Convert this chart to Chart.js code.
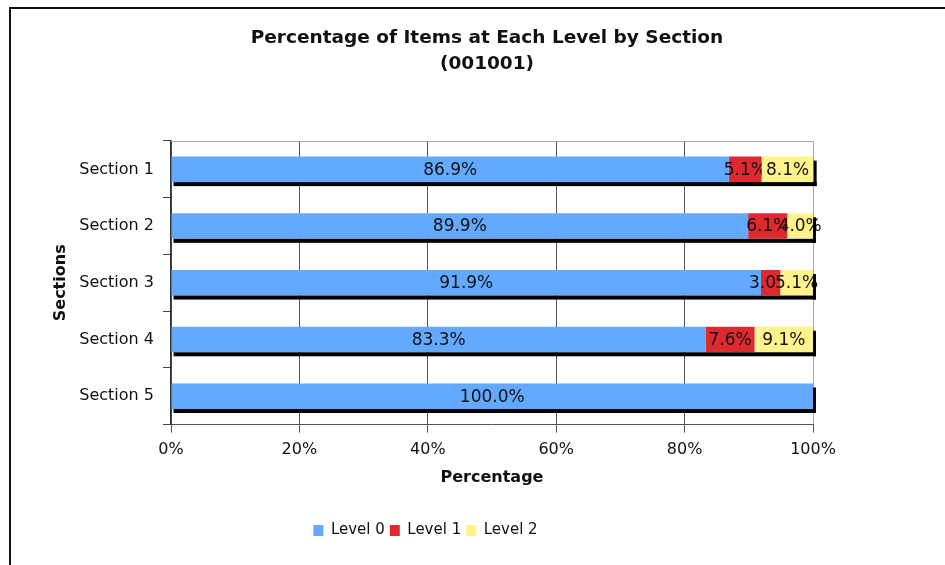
<!DOCTYPE html>
<html>
<head>
<meta charset="utf-8">
<script src="https://cdn.jsdelivr.net/npm/chart.js@4/dist/chart.umd.min.js"></script>
<style>
  html, body { margin: 0; padding: 0; background: #fff; }
  #wrap { width: 945px; height: 565px; }
</style>
</head>
<body>
<div id="wrap"><canvas id="levelChart" width="945" height="565"></canvas></div>
<script>
// sections and level shares (%)
const sections = ["Section 1", "Section 2", "Section 3", "Section 4", "Section 5"];
const level0 = [86.9, 89.9, 91.9, 83.3, 100.0];
const level1 = [5.1, 6.1, 3.0, 7.6, 0];
const level2 = [8.1, 4.0, 5.1, 9.1, 0];
const levelNames = ["Level 0", "Level 1", "Level 2"];
const levelColors = ["#63A9FF", "#DD2A31", "#FFF48C"];
const xTicks = [0, 20, 40, 60, 80, 100];

const FONT = "'DejaVu Sans', Verdana, sans-serif";

// outer frame (left and top edge only)
const framePlugin = {
  id: "frame",
  beforeDraw(chart) {
    const ctx = chart.ctx;
    ctx.save();
    ctx.strokeStyle = "#111";
    ctx.lineWidth = 2;
    ctx.beginPath();
    ctx.moveTo(10, chart.height + 5);
    ctx.lineTo(10, 8);
    ctx.lineTo(chart.width + 5, 8);
    ctx.stroke();
    ctx.restore();
  }
};

// the chart title sits centred on the page, not over the plot
const titleShift = {
  id: "titleShift",
  afterLayout(chart) {
    const tb = chart.titleBlock;
    if (!tb) return;
    const d = 487 - (tb.left + tb.right) / 2;
    tb.left += d;
    tb.right += d;
  }
};

// light border across the top of the plot area
const plotTopPlugin = {
  id: "plotTop",
  beforeDatasetsDraw(chart) {
    const { ctx, chartArea } = chart;
    ctx.save();
    ctx.strokeStyle = "#a8a8a8";
    ctx.lineWidth = 1;
    ctx.beginPath();
    ctx.moveTo(chartArea.left, Math.round(chartArea.top) + 0.5);
    ctx.lineTo(chartArea.right, Math.round(chartArea.top) + 0.5);
    ctx.stroke();
    ctx.restore();
  }
};

// value labels, each one hidden under the next segment, then the bar shadow
const labelPlugin = {
  id: "segLabels",
  afterDatasetsDraw(chart) {
    const ctx = chart.ctx;
    const metas = chart.data.datasets.map((ds, d) => chart.getDatasetMeta(d));
    ctx.save();
    ctx.font = "17px " + FONT;
    ctx.fillStyle = "#111";
    ctx.textAlign = "center";
    ctx.textBaseline = "middle";
    chart.data.datasets.forEach((ds, d) => {
      ds.data.forEach((v, i) => {
        if (!v) return;
        const bar = metas[d].data[i];
        const x0 = Math.min(bar.base, bar.x), x1 = Math.max(bar.base, bar.x);
        const hasNext = chart.data.datasets.some((o, k) => k > d && o.data[i] > 0);
        ctx.save();
        if (hasNext) {
          ctx.beginPath();
          ctx.rect(0, 0, x1, chart.height);
          ctx.clip();
        }
        ctx.fillText(v.toFixed(1) + "%", (x0 + x1) / 2, bar.y + 1);
        ctx.restore();
      });
    });

    // black drop shadow below and to the right of each stacked bar
    ctx.fillStyle = "#000";
    sections.forEach((s, i) => {
      let left = Infinity, right = -Infinity, top = 0, h = 0;
      metas.forEach((m, d) => {
        if (!chart.data.datasets[d].data[i]) return;
        const bar = m.data[i];
        left = Math.min(left, bar.base, bar.x);
        right = Math.max(right, bar.base, bar.x);
        top = bar.y - bar.height / 2;
        h = bar.height;
      });
      if (right < left) return;
      const dx = 3, dy = 4;
      ctx.fillRect(left + 2, top + h, right - left + dx - 2, dy);
      ctx.fillRect(right, top + dy, dx, h);
    });
    ctx.restore();
  }
};

const datasets = [level0, level1, level2].map((vals, d) => ({
  label: levelNames[d],
  data: vals,
  backgroundColor: levelColors[d],
  borderWidth: 0,
  barPercentage: 0.45,
  categoryPercentage: 1
}));

new Chart(document.getElementById("levelChart"), {
  type: "bar",
  data: { labels: sections, datasets },
  options: {
    indexAxis: "y",
    responsive: false,
    animation: false,
    layout: { padding: { top: 12, left: 38, right: 132, bottom: 17 } },
    scales: {
      x: {
        stacked: true,
        min: 0,
        max: 100,
        afterBuildTicks(scale) {
          scale.ticks = xTicks.map(v => ({ value: v }));
        },
        ticks: {
          color: "#111",
          padding: 8,
          font: { family: FONT, size: 16 },
          callback: v => v + "%"
        },
        grid: {
          color: ctx => (ctx.tick && ctx.tick.value === 100 ? "#a8a8a8" : "#555"),
          tickColor: "#555",
          tickLength: 8,
          lineWidth: 1
        },
        border: { color: "#555", width: 1 },
        title: {
          display: true,
          text: "Percentage",
          color: "#111",
          padding: { top: 0, bottom: 31 },
          font: { family: FONT, size: 16, weight: "bold" }
        }
      },
      y: {
        stacked: true,
        afterFit(scale) { scale.width = 171 - 38; },
        ticks: {
          color: "#111",
          padding: 9,
          font: { family: FONT, size: 16 }
        },
        grid: {
          drawOnChartArea: false,
          tickLength: 8,
          tickColor: "#444",
          offset: true
        },
        border: { color: "#333", width: 1.5 },
        title: {
          display: true,
          text: "Sections",
          color: "#111",
          padding: { top: 13, bottom: 0 },
          font: { family: FONT, size: 16, weight: "bold" }
        }
      }
    },
    plugins: {
      title: {
        display: true,
        text: ["Percentage of Items at Each Level by Section", "(001001)"],
        color: "#111",
        padding: { top: 13, bottom: 64 },
        font: { family: FONT, size: 18.5, weight: "bold", lineHeight: 1.405 }
      },
      legend: {
        position: "bottom",
        labels: {
          color: "#111",
          boxWidth: 10,
          boxHeight: 11,
          padding: 5,
          font: { family: FONT, size: 15 }
        }
      },
      tooltip: { enabled: false }
    }
  },
  plugins: [framePlugin, titleShift, plotTopPlugin, labelPlugin]
});
</script>
</body>
</html>
